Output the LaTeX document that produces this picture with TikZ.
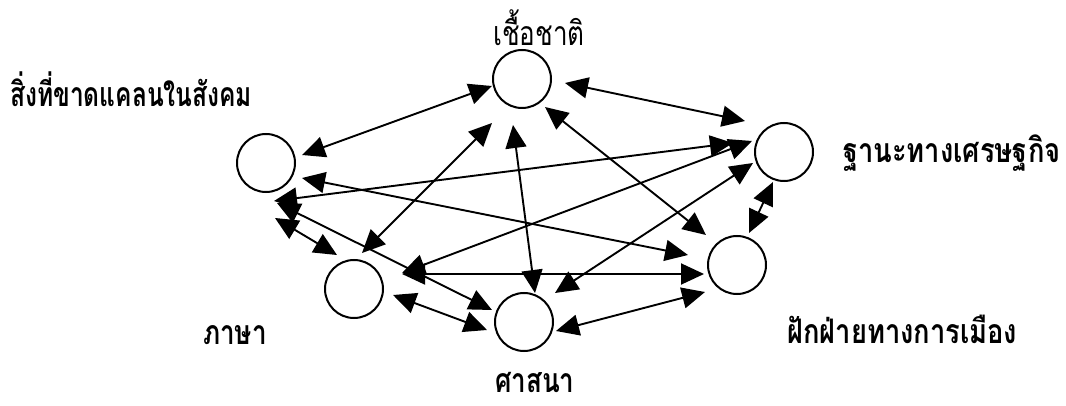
\documentclass[tikz,border=0pt]{standalone}
\usepackage{fontspec}
\newfontfamily\thaifont[Script=Thai]{Loma}
\usetikzlibrary{arrows.meta}
\newcommand\tlab[2]{\scalebox{#1}[1.3]{#2}}
\begin{document}
\begin{tikzpicture}[x=1pt,y=-1pt,
  vtx/.style={circle,draw,line width=2pt,minimum size=58pt,inner sep=0pt},
  link/.style={{Triangle[length=23pt,width=21pt]}-{Triangle[length=23pt,width=21pt]},line width=1.9pt},
  lbl/.style={font=\thaifont\bfseries\fontsize{26}{30}\selectfont,anchor=base west,inner sep=0pt},
  lblr/.style={font=\thaifont\fontsize{26}{30}\selectfont,anchor=base west,inner sep=0pt}]
\useasboundingbox (0,0) rectangle (1066,406);
% circles
\node[vtx] (T)  at (522,79)  {};
\node[vtx] (L)  at (266,163) {};
\node[vtx] (R)  at (784,152) {};
\node[vtx] (BL) at (354,289) {};
\node[vtx] (B)  at (524,322) {};
\node[vtx] (BR) at (737,265) {};
% labels
\node[lbl]  (tL)  at (10,107)  {\tlab{0.944}{สิ่งที่ขาดแคลนในสังคม}};
\node[lblr] (tT)  at (493,46)  {\tlab{1.0}{เชื้อชาติ}};
\node[lbl]  (tR)  at (843,163) {\tlab{1.05}{ฐานะทางเศรษฐกิจ}};
\node[lbl]  (tBL) at (203,344) {\tlab{1.0}{ภาษา}};
\node[lbl]  (tBR) at (787,343) {\tlab{1.05}{ฝักฝ่ายทางการเมือง}};
\node[lbl]  (tB)  at (495,392) {\tlab{1.0}{ศาสนา}};
% connectors
\draw[link] ([shift={(-30,7)}]T.center)  -- ([shift={(36,-8)}]L.center);
\draw[link] ([shift={(43,4)}]T.center)   -- ([shift={(-39,-31)}]R.center);
\draw[link] ([shift={(-9,46)}]T.center)  -- ([shift={(11,-29)}]B.center);
\draw[link] ([shift={(-30,44)}]T.center) -- ([shift={(8,-36)}]BL.center);
\draw[link] ([shift={(23,28)}]T.center)  -- ([shift={(-31,-30)}]BR.center);
\draw[link] ([shift={(8,38)}]L.center)   -- ([shift={(-51,-9)}]R.center);
\draw[link] ([shift={(11,40)}]L.center)  -- ([shift={(-32,-12)}]B.center);
\draw[link] ([shift={(9,55)}]L.center)   -- ([shift={(-17,-34)}]BL.center);
\draw[link] ([shift={(36,15)}]L.center)  -- ([shift={(-49,-10)}]BR.center);
\draw[link] ([shift={(-32,-11)}]R.center) -- ([shift={(48,-16)}]BL.center);
\draw[link] ([shift={(-31,11)}]R.center) -- ([shift={(31,-29)}]B.center);
\draw[link] ([shift={(-11,30)}]R.center) -- ([shift={(12,-32)}]BR.center);
\draw[link] ([shift={(39,6)}]BL.center)  -- ([shift={(-37,8)}]B.center);
\draw[link] ([shift={(48,-15)}]BL.center) -- ([shift={(-33,9)}]BR.center);
\draw[link] ([shift={(32,9)}]B.center)   -- ([shift={(-32,27)}]BR.center);
\end{tikzpicture}
\end{document}
